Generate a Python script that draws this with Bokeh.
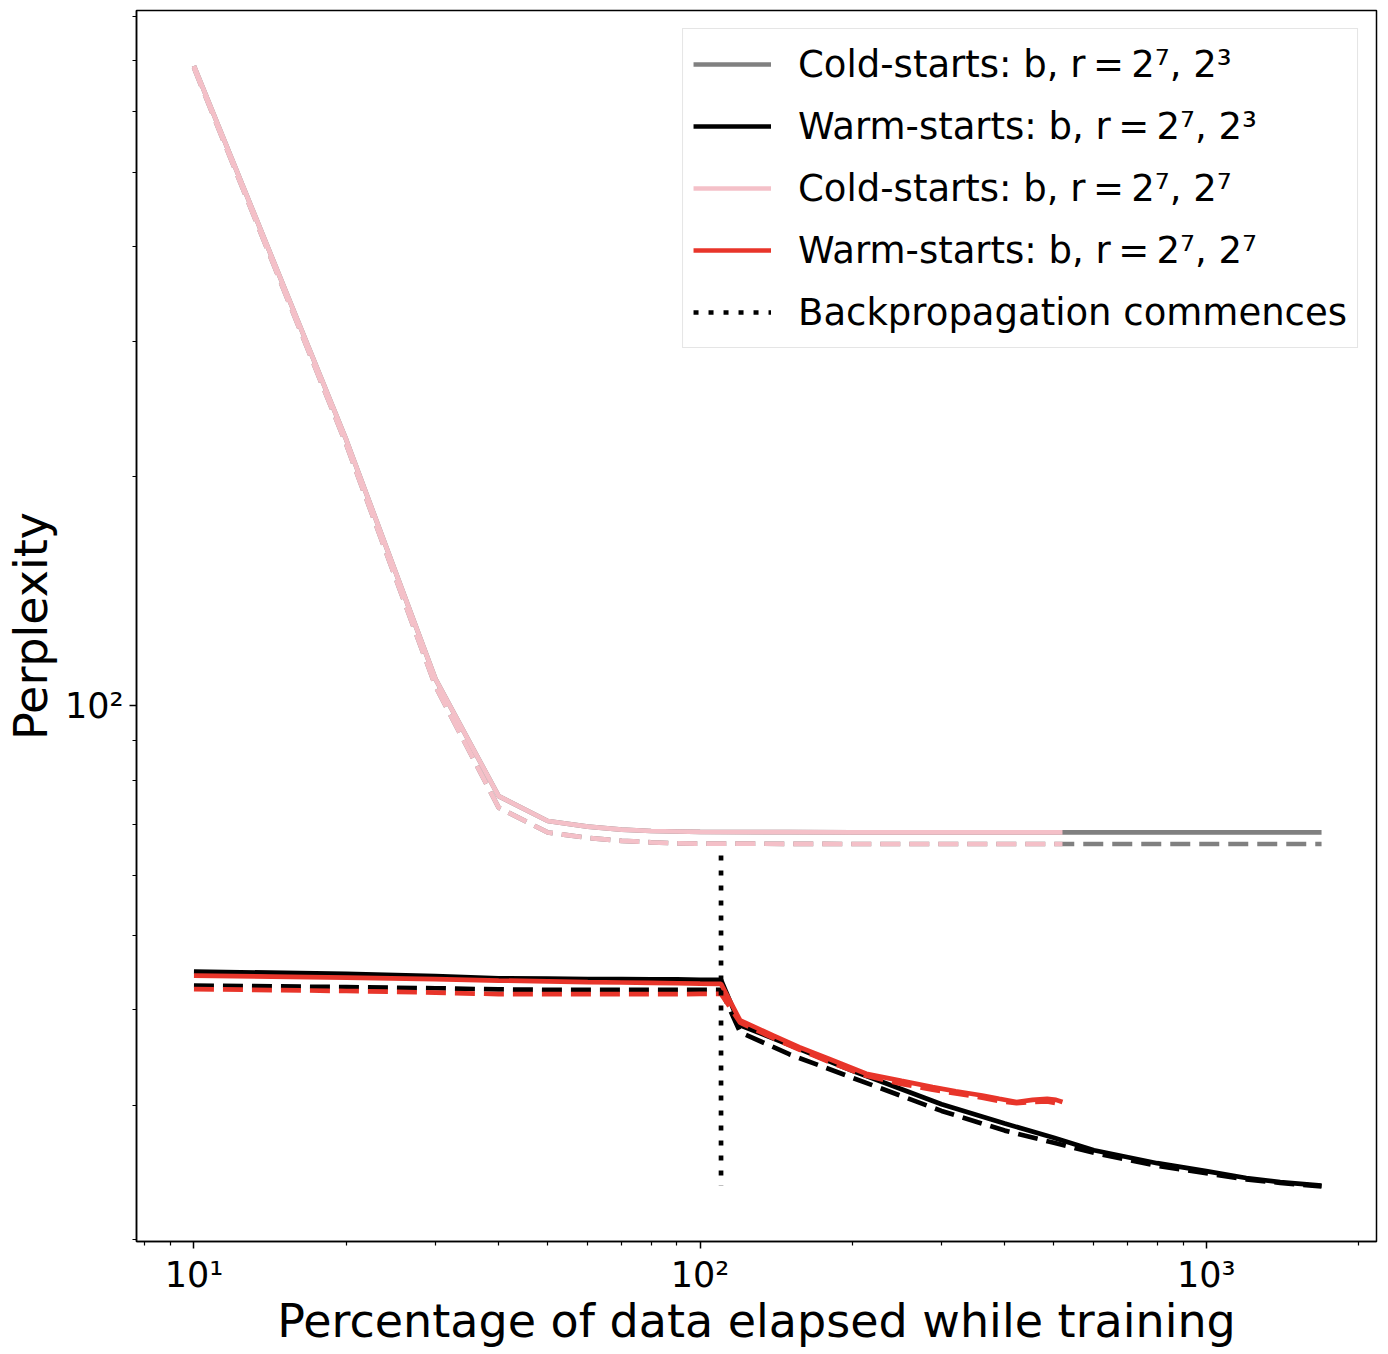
from bokeh.plotting import figure
from bokeh.models import Range1d, FixedTicker, Legend, LegendItem
from bokeh.embed import file_html
from bokeh.resources import INLINE

# ---------------- data ----------------
# cold-starts, b,r = 2^7, 2^7 (pink)
cold77_x = [10, 20, 30, 40, 50, 60, 70, 80, 90, 100, 150, 200, 300, 400, 520]
cold77_solid = [689, 223, 108.5, 76.2, 70.7, 69.5, 68.9, 68.6, 68.5, 68.4, 68.35, 68.3, 68.3, 68.3, 68.3]
cold77_dash = [685, 220, 106.2, 73.6, 68.3, 67.2, 66.6, 66.3, 66.1, 66.05, 66.0, 65.96, 65.96, 65.96, 65.96]

# cold-starts, b,r = 2^7, 2^3 (grey)
cold73_x = [10, 20, 30, 40, 50, 60, 70, 80, 90, 100, 150, 200, 300, 400, 520, 700, 1000, 1300, 1690]
cold73_solid = [689, 223, 108.5, 76.2, 70.7, 69.5, 68.9, 68.6, 68.5, 68.4, 68.35, 68.3, 68.3, 68.3, 68.3, 68.3, 68.3, 68.3, 68.3]
cold73_dash = [685, 220, 106.2, 73.6, 68.3, 67.2, 66.6, 66.3, 66.1, 66.05, 66.0, 65.96, 65.96, 65.96, 65.96, 65.96, 65.96, 65.96, 65.96]

# warm-starts, b,r = 2^7, 2^3 (black)
warm73_x = [10, 20, 30, 40, 50, 60, 70, 80, 90, 100, 110, 120, 150, 200, 300, 400, 500, 600, 800, 1000, 1200, 1400, 1690]
warm73_solid = [44.9, 44.6, 44.3, 44.0, 43.95, 43.9, 43.9, 43.85, 43.85, 43.8, 43.8, 38.2, 36.0, 33.3, 30.1, 28.4, 27.2, 26.2, 25.2, 24.6, 24.1, 23.8, 23.55]
warm73_dash = [43.05, 42.85, 42.7, 42.55, 42.5, 42.5, 42.5, 42.5, 42.5, 42.5, 42.5, 37.4, 35.0, 32.6, 29.5, 27.8, 26.8, 26.0, 25.0, 24.45, 24.0, 23.75, 23.5]

# warm-starts, b,r = 2^7, 2^7 (red)
warm77_x = [10, 20, 30, 40, 50, 60, 70, 80, 90, 100, 110, 120, 140, 157, 180, 213, 250, 288, 320, 361, 390, 422, 454, 485, 505, 520]
warm77_solid = [44.36, 44.1, 43.9, 43.7, 43.6, 43.5, 43.45, 43.4, 43.35, 43.3, 43.27, 38.75, 37.0, 35.75, 34.5, 33.0, 32.3, 31.7, 31.3, 30.9, 30.6, 30.3, 30.5, 30.6, 30.5, 30.3]
warm77_dash = [42.6, 42.35, 42.15, 41.95, 41.95, 41.95, 41.95, 41.95, 41.95, 41.98, 41.98, 38.5, 36.7, 35.5, 34.2, 32.8, 32.0, 31.45, 31.1, 30.7, 30.4, 30.2, 30.3, 30.35, 30.2, 30.1]

# backpropagation commences
bp_x = [110, 110]
bp_y = [63.7, 23.55]

x_major = [10, 100, 1000]
x_labels = {10: "10\u00b9", 100: "10\u00b2", 1000: "10\u00b3"}
x_minor = [8, 9, 20, 30, 40, 50, 60, 70, 80, 90, 200, 300, 400, 500, 600, 700, 800, 900, 2000]
y_major = [100]
y_labels = {100: "10\u00b2"}
y_minor = [20, 30, 40, 50, 60, 70, 80, 90, 200, 300, 400, 500, 600, 700, 800]

labels = [
    "Cold-starts: b, r\u2009=\u20092\u2077, 2\u00b3",
    "Warm-starts: b, r\u2009=\u20092\u2077, 2\u00b3",
    "Cold-starts: b, r\u2009=\u20092\u2077, 2\u2077",
    "Warm-starts: b, r\u2009=\u20092\u2077, 2\u2077",
    "Backpropagation commences",
]

GREY = "#808080"
PINK = "#f4c0c8"
RED = "#e8352a"
BLACK = "#000000"
FONT = "DejaVu Sans"
LW = 4.7
DASH = "20 9"

p = figure(
    x_axis_type="log", y_axis_type="log",
    x_range=Range1d(7.7, 2170), y_range=Range1d(19.9, 814),
    frame_width=1240, frame_height=1231,
    min_border_left=128, min_border_top=10, min_border_right=4, min_border_bottom=96,
    output_backend="svg", toolbar_location=None,
    background_fill_color="white", border_fill_color="white",
)
p.grid.visible = False
p.outline_line_color = "black"
p.outline_line_width = 1.5
p.outline_line_alpha = 1.0

g_solid = p.line(cold73_x, cold73_solid, line_color=GREY, line_width=LW)
p.line(cold73_x, cold73_dash, line_color=GREY, line_width=LW, line_dash=DASH)
b_solid = p.line(warm73_x, warm73_solid, line_color=BLACK, line_width=LW)
p.line(warm73_x, warm73_dash, line_color=BLACK, line_width=LW, line_dash=DASH)
pk_solid = p.line(cold77_x, cold77_solid, line_color=PINK, line_width=LW)
p.line(cold77_x, cold77_dash, line_color=PINK, line_width=LW, line_dash=DASH)
r_solid = p.line(warm77_x, warm77_solid, line_color=RED, line_width=LW)
p.line(warm77_x, warm77_dash, line_color=RED, line_width=LW, line_dash=DASH)
bp = p.line(bp_x, bp_y, line_color=BLACK, line_width=LW, line_dash="5 10")

# axes
p.xaxis.ticker = FixedTicker(ticks=x_major, minor_ticks=x_minor)
p.xaxis.major_label_overrides = x_labels
p.yaxis.ticker = FixedTicker(ticks=y_major, minor_ticks=y_minor)
p.yaxis.major_label_overrides = y_labels

for ax in (p.xaxis, p.yaxis):
    ax.axis_line_color = "black"
    ax.axis_line_width = 1.5
    ax.major_tick_line_color = "black"
    ax.major_tick_line_width = 1.5
    ax.minor_tick_line_color = "black"
    ax.minor_tick_line_width = 1.2
    ax.major_tick_out = 7
    ax.major_tick_in = 0
    ax.minor_tick_out = 4
    ax.minor_tick_in = 0
    ax.major_label_text_font = FONT
    ax.major_label_text_font_size = "35px"
    ax.major_label_text_color = "black"
    ax.axis_label_text_font = FONT
    ax.axis_label_text_font_size = "46px"
    ax.axis_label_text_font_style = "normal"
    ax.axis_label_text_color = "black"
    ax.major_label_standoff = 6

p.xaxis.axis_label = "Percentage of data elapsed while training"
p.yaxis.axis_label = "Perplexity"
p.xaxis.axis_label_standoff = -4
p.yaxis.axis_label_standoff = 4

legend = Legend(
    items=[
        LegendItem(label=labels[0], renderers=[g_solid]),
        LegendItem(label=labels[1], renderers=[b_solid]),
        LegendItem(label=labels[2], renderers=[pk_solid]),
        LegendItem(label=labels[3], renderers=[r_solid]),
        LegendItem(label=labels[4], renderers=[bp]),
    ],
    location="top_right",
    margin=18,
    padding=10,
    spacing=12,
    glyph_width=78,
    glyph_height=50,
    label_height=50,
    label_standoff=27,
    label_text_font=FONT,
    label_text_font_size="37px",
    label_text_color="black",
    border_line_color="#cccccc",
    border_line_width=1.5,
    background_fill_color="white",
    background_fill_alpha=0.8,
)
p.add_layout(legend, "center")

open("out.html", "w").write(file_html(p, INLINE))
